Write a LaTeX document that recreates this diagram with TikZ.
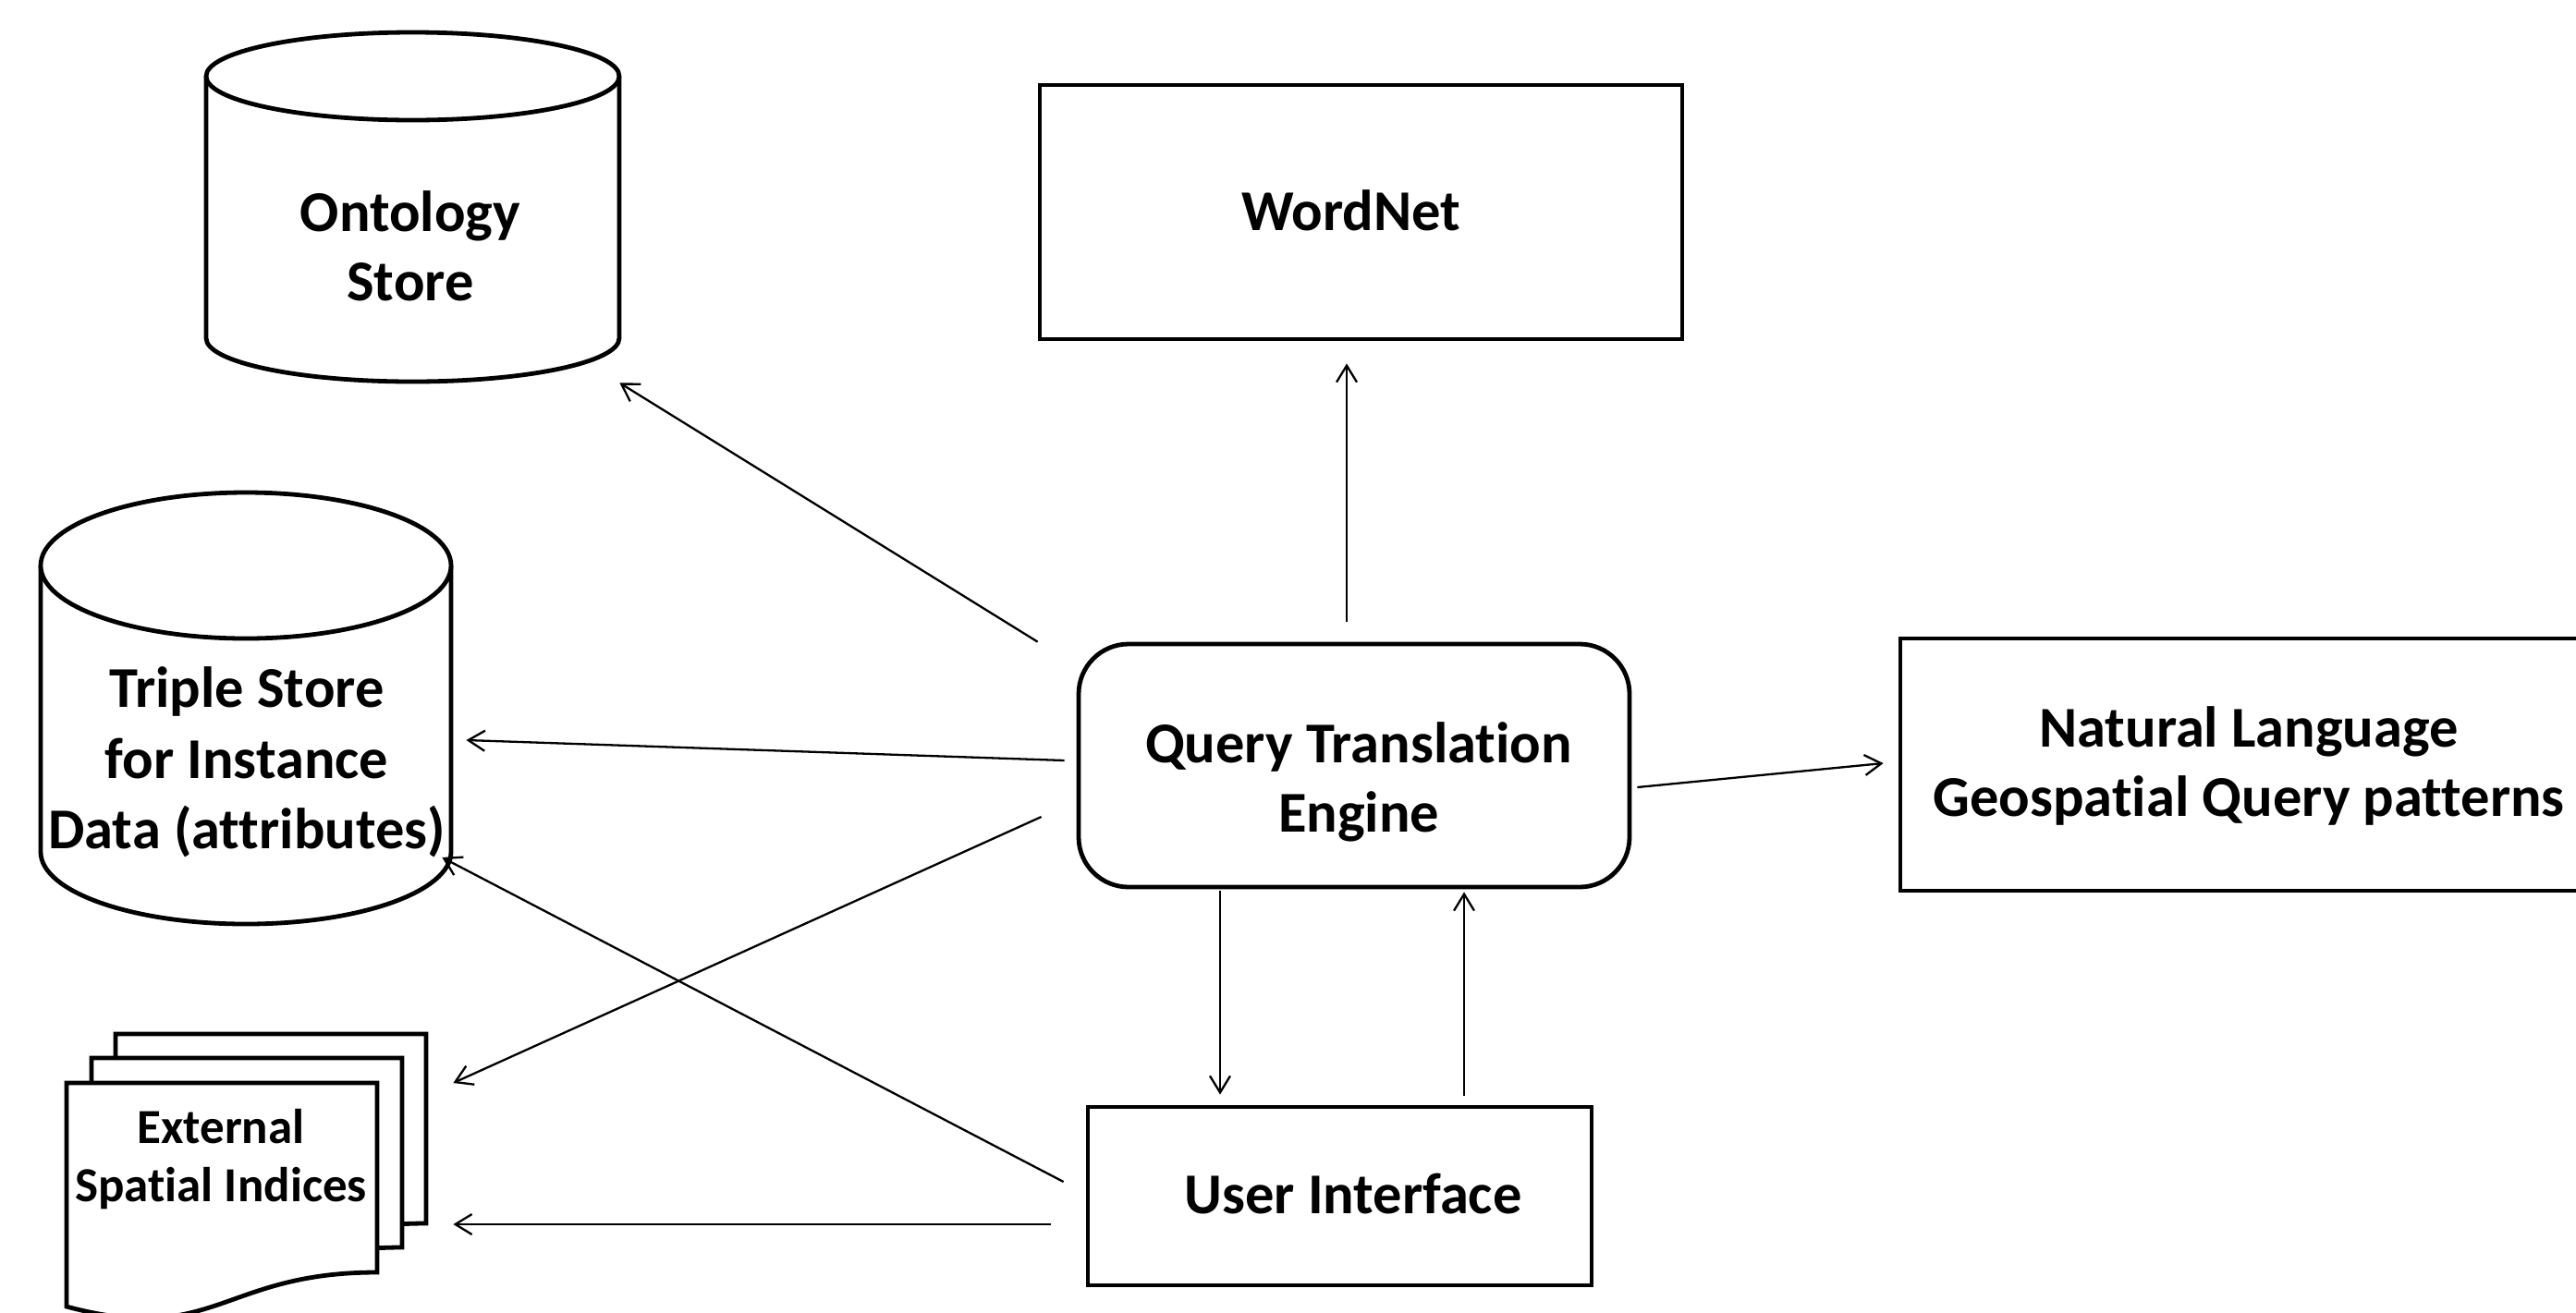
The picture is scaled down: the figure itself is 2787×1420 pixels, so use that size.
\documentclass[tikz,border=0pt]{standalone}
\usepackage{fontspec}
\setmainfont{Carlito}[Ligatures={NoCommon}]
\usetikzlibrary{arrows.meta}
\tikzset{
  shapeline/.style={draw=black, line width=2.4pt, fill=white},
  boxnode/.style={shapeline, rectangle, inner sep=0pt},
  holder/.style={rectangle, inner sep=0pt},
  tagtext/.style={font=\fontsize{31.25pt}{37.5pt}\selectfont\bfseries, inner sep=0pt, anchor=base},
  smalltag/.style={font=\fontsize{26.5pt}{30pt}\selectfont\bfseries, inner sep=0pt, anchor=base},
  flow/.style={line width=1.15pt, -{Straight Barb[length=9pt,width=11pt]}}
}
\begin{document}
\begin{tikzpicture}[x=0.5pt,y=-0.5pt]
  % page
  \fill[white] (0,0) rectangle (2787,1420);
  \useasboundingbox (0,0) rectangle (2787,1420);

  % ---- boxes ----
  \node[boxnode, minimum width=347.5pt, minimum height=137.5pt] (wordnet) at (1472.5,229.5) {};
  \node[boxnode, rounded corners=27pt, minimum width=298pt, minimum height=131.5pt] (qte) at (1465,828.5) {};
  \node[boxnode, minimum width=387pt, minimum height=136.5pt] (nl) at (2443,827.5) {};
  \node[boxnode, minimum width=272.5pt, minimum height=96.5pt] (ui) at (1449.5,1294.5) {};

  % ---- ontology store cylinder ----
  \node[holder, minimum width=223.5pt, minimum height=189pt] (ont) at (446.5,224) {};
  \draw[shapeline] (223,82.5) -- (223,366)
        arc[start angle=180, end angle=360, x radius=111.75pt, y radius=23.5pt]
        -- (670,82.5);
  \draw[shapeline] (446.5,82.5) ellipse [x radius=111.75pt, y radius=23.75pt];

  % ---- triple store cylinder ----
  \node[holder, minimum width=222pt, minimum height=234pt] (tri) at (266,767) {};
  \draw[shapeline] (44,612) -- (44,922)
        arc[start angle=180, end angle=360, x radius=111pt, y radius=39pt]
        -- (488,612);
  \draw[shapeline] (266,612) ellipse [x radius=111pt, y radius=39.5pt];

  % ---- stack of index documents ----
  \node[holder, minimum width=194.5pt, minimum height=150.5pt] (ext) at (266.5,1269.5) {};
  \foreach \px/\py in {125/1119, 99/1145, 72/1172} {
    \begin{scope}[shift={(\px,\py)}]
      \draw[shapeline] (0,0) -- (336,0) -- (336,205)
            .. controls (168,205) and (160,285) .. (0,242) -- cycle;
    \end{scope}
  }

  % ---- texts ----
  \node[tagtext] (wordnet-t) at (1462,249) {WordNet};
  \node[tagtext] (qte-t1) at (1470,825) {Query Translation};
  \node[tagtext] (qte-t2) at (1470,900) {Engine};
  \node[tagtext] (nl-t1) at (2433,808) {Natural Language};
  \node[tagtext] (nl-t2) at (2433,883) {Geospatial Query patterns};
  \node[tagtext] (ui-t) at (1464,1313) {User Interface};
  \node[tagtext] (ont-t1) at (444,250) {Ontology};
  \node[tagtext] (ont-t2) at (444,325) {Store};
  \node[tagtext] (tri-t1) at (267,765) {Triple Store};
  \node[tagtext] (tri-t2) at (267,842) {for Instance};
  \node[tagtext] (tri-t3) at (267,918) {Data (attributes)};
  \node[smalltag] (ext-t1) at (239,1237) {External};
  \node[smalltag] (ext-t2) at (239,1300) {Spatial Indices};

  % ---- connectors ----
  \draw[flow] ([shift={(-42,0)}]qte.north west) -- ([shift={(0,1)}]ont.south east);
  \draw[flow] ([shift={(-13,-5.5)}]qte.west) -- ([shift={(16,34)}]tri.east);
  \draw[flow] ([shift={(-38,55.5)}]qte.west) -- ([shift={(29,-97.5)}]ext.east);
  \draw[flow] ([shift={(-24,-15.5)}]ui.west) -- ([shift={(-10,161)}]tri.east);
  \draw[flow] ([shift={(-38,30.5)}]ui.west) -- ([shift={(29,55.5)}]ext.east);
  \draw[flow] ([shift={(-8,-22)}]qte.north) -- ([shift={(-15.5,24)}]wordnet.south);
  \draw[flow] ([shift={(-145,2)}]qte.south) -- ([shift={(-129.5,-11)}]ui.north);
  \draw[flow] ([shift={(134.5,-10)}]ui.north) -- ([shift={(119,3)}]qte.south);
  \draw[flow] ([shift={(6,23.5)}]qte.east) -- ([shift={(-16,-1.5)}]nl.west);
\end{tikzpicture}
\end{document}
